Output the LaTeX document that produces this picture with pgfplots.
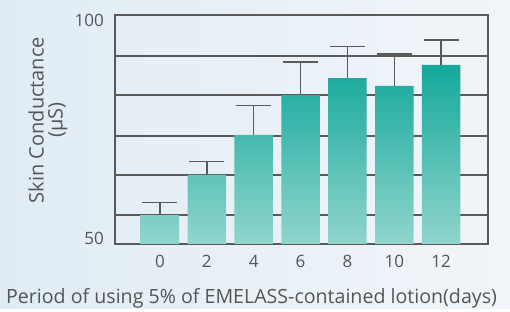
\documentclass[border=0pt]{standalone}
\usepackage{pgfplots}
\pgfplotsset{compat=1.18}
\usepackage{pgfplotstable}
\usepackage{fontspec}
\setmainfont{Open Sans}
\definecolor{txt}{HTML}{555555}
\definecolor{axc}{HTML}{5A5A5A}
\definecolor{barTop}{HTML}{14A89A}
\definecolor{barBot}{HTML}{90D5CD}
\definecolor{bgL}{HTML}{E0ECF4}
\definecolor{bgR}{HTML}{F1F5F9}
\pgfplotstableread{
x y err
0 56.3 2.8
1 65.1 2.9
2 73.8 6.4
3 82.5 7.2
4 86.2 6.9
5 84.5 7.0
6 89.1 5.4
}\datatab
\begin{document}
\begin{tikzpicture}
\shade[left color=bgL, right color=bgR] (-115pt,-65pt) rectangle (395pt,244pt);
\begin{axis}[
  scale only axis,
  width=373pt, height=229pt,
  at={(0,0)}, anchor=south west,
  xmin=-0.96, xmax=7.0,
  ymin=50, ymax=100,
  ybar, bar width=38.5pt,
  axis line style={draw=axc, line width=1.4pt},
  xtick={0,1,2,3,4,5,6},
  xticklabels={0,2,4,6,8,10,12},
  ytick={51.3,98.9},
  yticklabels={50,100},
  major tick length=0pt,
  /pgf/number format/assume math mode=true,
  ymajorgrids=false,
  extra y ticks={56.33,65.07,73.6,82.53,91.05},
  extra y tick labels={},
  extra y tick style={grid=major, major grid style={draw=axc, line width=1.3pt}},
  xticklabel style={font=\fontsize{17}{20}\selectfont, text=txt, yshift=-8pt},
  yticklabel style={font=\fontsize{17}{20}\selectfont, text=txt, anchor=east, inner sep=0pt, xshift=-11pt},
  xlabel={Period of using 5\% of EMELASS-contained lotion(days)},
  xlabel style={font=\fontsize{19.6}{22}\selectfont, text=txt, at={(axis description cs:0.366,-0.236)}, anchor=center},
  ylabel={Skin Conductance\\(µS)},
  ylabel style={font=\fontsize{20}{19}\selectfont, text=txt, align=center, at={(axis description cs:-0.18,0.541)}, anchor=center, rotate=0},
  clip=false,
]
\addplot[draw=none, top color=barTop, bottom color=barBot,
  error bars/.cd, y dir=plus, y explicit,
  error bar style={draw=axc, line width=1.4pt},
  error mark options={draw=axc, line width=1.4pt, mark size=17.5pt, rotate=90}]
  table[x=x, y=y, y error=err] {\datatab};
\end{axis}
\end{tikzpicture}
\end{document}
